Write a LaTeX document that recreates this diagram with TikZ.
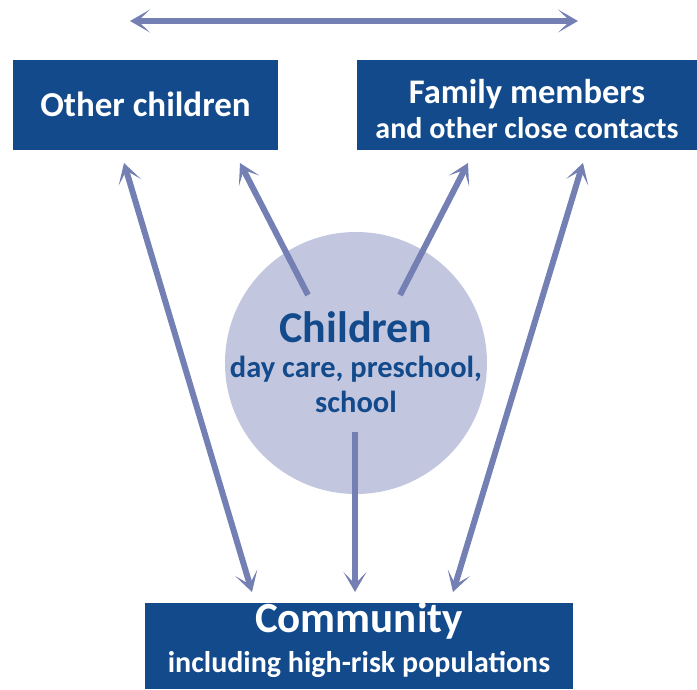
\documentclass[tikz,border=0pt]{standalone}
\usepackage{fontspec}
\setmainfont{Carlito}
\usetikzlibrary{arrows.meta,positioning}

\definecolor{boxblue}{HTML}{134A8C}
\definecolor{linkblue}{HTML}{7480B4}
\definecolor{kidsfill}{HTML}{C2C6DE}

\tikzset{
  box/.style={fill=boxblue,text=white,inner sep=0pt,align=center},
  link/.style={linkblue,line width=6pt},
  head/.tip={Stealth[length=20pt,width=23pt,inset=12pt]}
}

\begin{document}
\begin{tikzpicture}[x=1pt,y=-1pt]

  \useasboundingbox (0,0) rectangle (697,689);

  \def\tipy{163}
  \def\endy{592}

  % boxes and circle
  \node[box,minimum width=265pt,minimum height=90pt,text height=22pt,text depth=0pt,
        font=\bfseries\fontsize{35}{40}\selectfont] (others) at (145.5,105)
    {Other children};
  \node[box,minimum width=340pt,minimum height=90pt,text height=66pt,text depth=0pt,
        font=\bfseries\fontsize{30}{35}\selectfont] (family) at (527,105)
    {{\fontsize{34.5}{35}\selectfont Family members}\\
     and other close contacts};
  \node[box,minimum width=428pt,minimum height=86pt,text height=58pt,text depth=6pt,
        font=\bfseries\fontsize{30}{40}\selectfont] (community) at (359,646)
    {{\fontsize{43}{40}\selectfont Community}\\
     including high-risk populations};
  \node[circle,fill=kidsfill,minimum size=262pt,inner sep=0pt] (kids) at (356,363) {};
  \node[align=center,text=boxblue,inner sep=0pt,text height=98pt,text depth=0pt,
        font=\bfseries\fontsize{30.5}{35}\selectfont] (kids text) at (kids.center)
    {{\fontsize{44}{35}\selectfont Children}\\
     day care, preschool,\\ school};

  % end points of the arrows
  \coordinate (top left) at (130,21);
  \coordinate (top right) at (578,21);
  \coordinate (kids left) at (308,295);
  \coordinate (kids right) at (400,295);
  \coordinate (kids low) at (355,432);
  \coordinate (others out) at (124,\tipy);
  \coordinate (others in) at (240,\tipy);
  \coordinate (family in) at (468,\tipy);
  \coordinate (family out) at (583,\tipy);
  \coordinate (comm left) at (252,\endy);
  \coordinate (comm mid) at (355,\endy);
  \coordinate (comm right) at (453,\endy);

  % arrows
  \draw[link,head-head] (top left) -- (top right);
  \draw[link,-head] (kids left) -- (others in);
  \draw[link,-head] (kids right) -- (family in);
  \draw[link,-head] (kids low) -- (comm mid);
  \draw[link,head-head] (others out) -- (comm left);
  \draw[link,head-head] (family out) -- (comm right);

\end{tikzpicture}
\end{document}
